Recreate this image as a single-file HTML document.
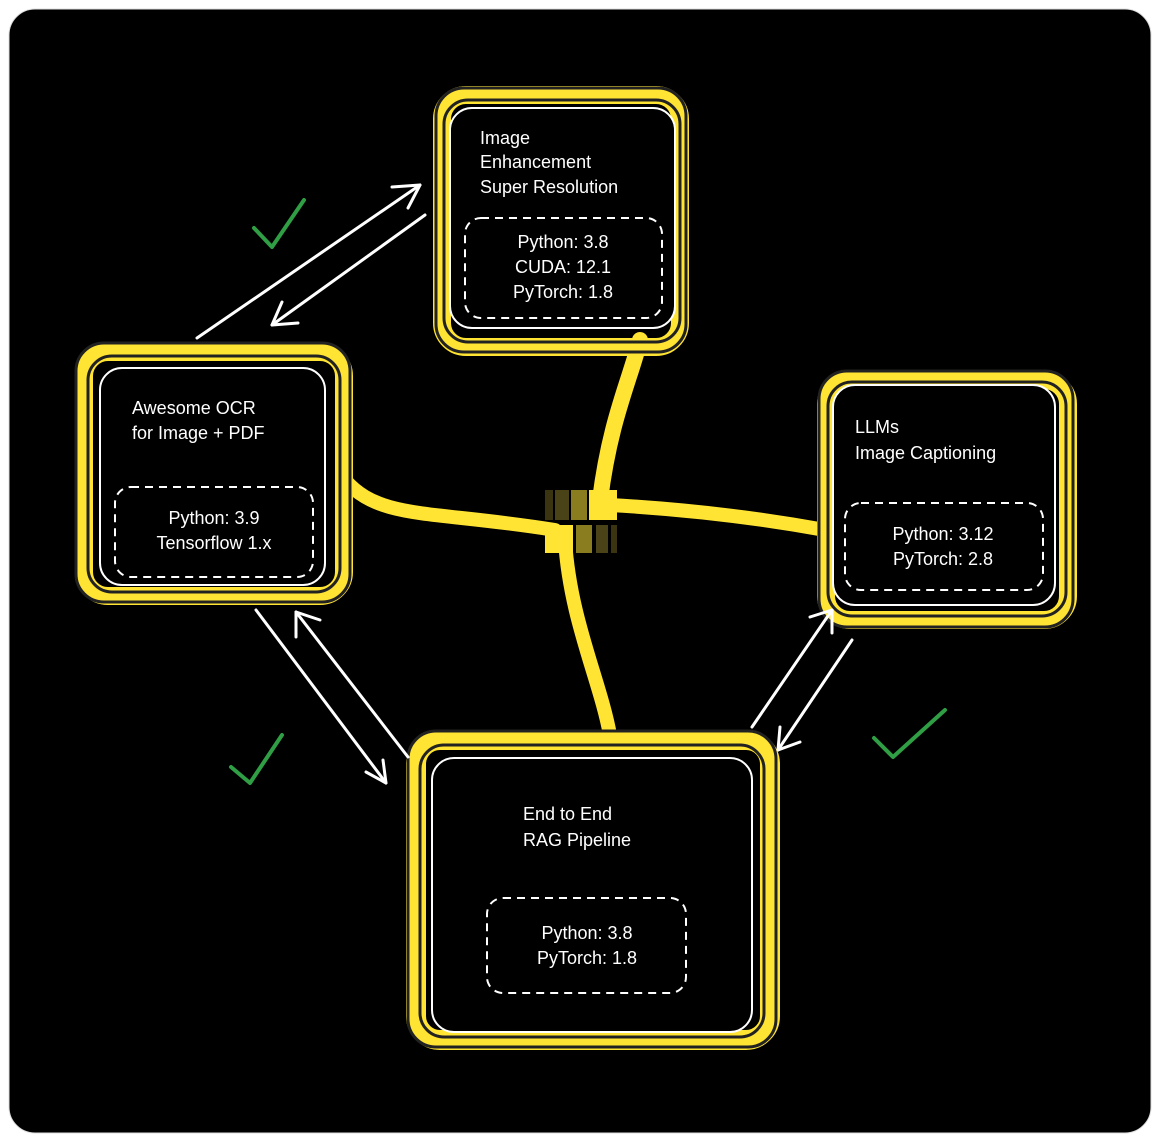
<!DOCTYPE html>
<html><head><style>
html,body{margin:0;padding:0;background:#fff;width:1160px;height:1142px;overflow:hidden}
text{font-family:"Liberation Sans",sans-serif;fill:#fff;font-size:18px}
</style></head><body>
<svg width="1160" height="1142" viewBox="0 0 1160 1142">
<rect x="9" y="9" width="1142" height="1124" rx="26" fill="#000" stroke="#ddd" stroke-width="1"/>
<g stroke="#ffe433" fill="none" stroke-linecap="round">
<path d="M640 340 C630 380 610 420 600 500" stroke-width="16"/>
<path d="M345 480 C380 520 430 510 555 530" stroke-width="14"/>
<path d="M825 530 C770 520 700 510 610 505" stroke-width="14"/>
<path d="M610 735 C600 680 570 620 565 540" stroke-width="14"/>
<rect x="442" y="95" width="238" height="252" rx="24" stroke-width="18"/>
<rect x="84" y="352" width="260" height="244" rx="24" stroke-width="18"/>
<rect x="826" y="380" width="242" height="240" rx="24" stroke-width="18"/>
<rect x="416" y="740" width="354" height="300" rx="24" stroke-width="20"/>
</g>
<g stroke="#222" fill="none" stroke-width="3">
<rect x="436" y="88" width="250" height="264" rx="28"/>
<rect x="76" y="343" width="274" height="259" rx="28"/>
<rect x="819" y="371" width="254" height="256" rx="28"/>
<rect x="408" y="731" width="368" height="316" rx="28"/>
<rect x="444" y="100" width="236" height="242" rx="24"/>
<rect x="88" y="356" width="252" height="236" rx="24"/>
<rect x="828" y="382" width="238" height="234" rx="24"/>
<rect x="420" y="745" width="344" height="292" rx="24"/>
</g>
<rect x="545" y="490" width="8" height="30" fill="#3a3410"/>
<rect x="555" y="490" width="14" height="30" fill="#4a4318"/>
<rect x="571" y="490" width="16" height="30" fill="#8a7d20"/>
<rect x="589" y="490" width="28" height="30" fill="#ffe433"/>
<rect x="545" y="525" width="28" height="28" fill="#ffe433"/>
<rect x="576" y="525" width="16" height="28" fill="#8a7d20"/>
<rect x="596" y="525" width="12" height="28" fill="#4a4318"/>
<rect x="611" y="525" width="6" height="28" fill="#3a3410"/>
<g fill="#000" stroke="#fff" stroke-width="2">
<rect x="450" y="108" width="225" height="220" rx="22"/>
<rect x="100" y="368" width="225" height="217" rx="22"/>
<rect x="833" y="385" width="222" height="220" rx="22"/>
<rect x="432" y="758" width="320" height="274" rx="22"/>
</g>
<g fill="none" stroke="#fff" stroke-width="2" stroke-dasharray="8 6">
<rect x="465" y="218" width="197" height="100" rx="16"/>
<rect x="115" y="487" width="198" height="90" rx="16"/>
<rect x="845" y="503" width="198" height="87" rx="16"/>
<rect x="487" y="898" width="199" height="95" rx="16"/>
</g>
<text x="480" y="144">Image</text>
<text x="480" y="168">Enhancement</text>
<text x="480" y="193">Super Resolution</text>
<text x="563" y="248" text-anchor="middle">Python: 3.8</text>
<text x="563" y="273" text-anchor="middle">CUDA: 12.1</text>
<text x="563" y="298" text-anchor="middle">PyTorch: 1.8</text>
<text x="132" y="414">Awesome OCR</text>
<text x="132" y="439">for Image + PDF</text>
<text x="214" y="524" text-anchor="middle">Python: 3.9</text>
<text x="214" y="549" text-anchor="middle">Tensorflow 1.x</text>
<text x="855" y="433">LLMs</text>
<text x="855" y="459">Image Captioning</text>
<text x="943" y="540" text-anchor="middle">Python: 3.12</text>
<text x="943" y="565" text-anchor="middle">PyTorch: 2.8</text>
<text x="523" y="820">End to End</text>
<text x="523" y="846">RAG Pipeline</text>
<text x="587" y="939" text-anchor="middle">Python: 3.8</text>
<text x="587" y="964" text-anchor="middle">PyTorch: 1.8</text>
<g stroke="#fff" stroke-width="3" fill="none" stroke-linecap="round" stroke-linejoin="round">
<path d="M197 338 L420 185"/><path d="M392 187 L420 185 L408 208"/>
<path d="M425 215 L272 325"/><path d="M282 302 L272 325 L298 323"/>
<path d="M256 610 L386 783"/><path d="M366 772 L386 783 L383 760"/>
<path d="M408 757 L296 612"/><path d="M296 637 L296 612 L320 620"/>
<path d="M752 727 L832 610"/><path d="M810 617 L832 610 L832 633"/>
<path d="M852 640 L778 750"/><path d="M780 727 L778 750 L800 742"/>
</g>
<g stroke="#2f9e44" stroke-width="4" fill="none" stroke-linecap="round" stroke-linejoin="round">
<path d="M254 228 L272 247 L304 200"/>
<path d="M231 767 L250 783 L282 735"/>
<path d="M874 738 L893 757 L945 710"/>
</g>
</svg>
</body></html>
